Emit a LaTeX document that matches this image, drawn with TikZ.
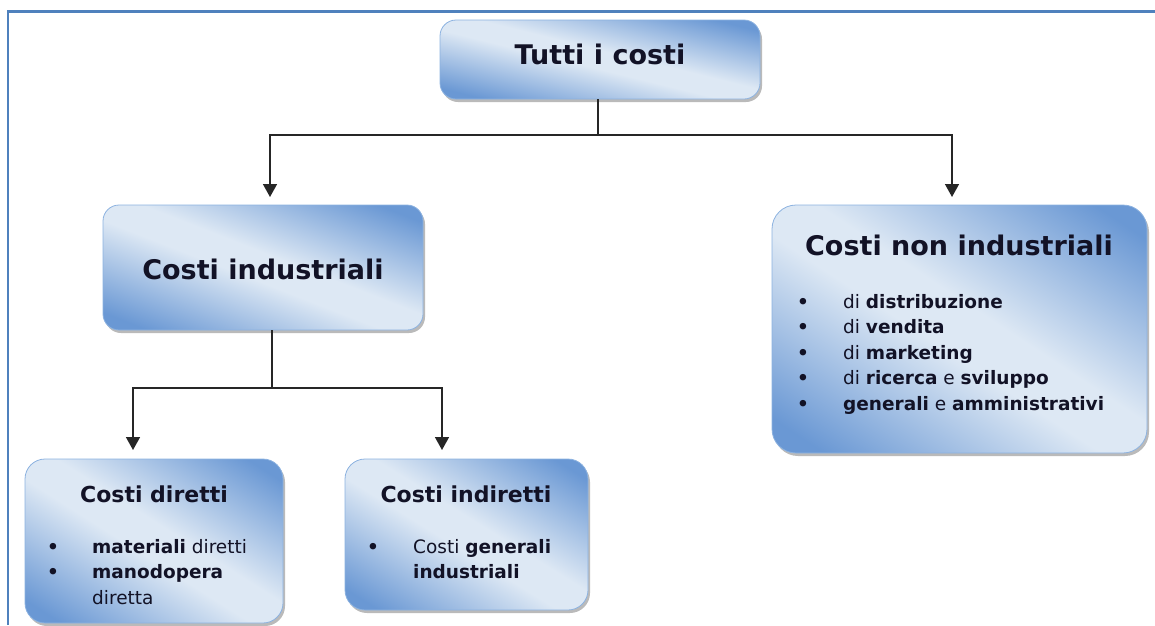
\documentclass[tikz,border=0pt]{standalone}
\usepackage{fontspec}
\setmainfont{DejaVu Sans}
\usetikzlibrary{arrows.meta,shadows}

\definecolor{frameblue}{RGB}{79,129,189}
\definecolor{boxedge}{RGB}{140,178,224}
\definecolor{txtcol}{RGB}{18,18,38}

% light band along the box diagonal, darker blue towards bottom left and top right
\pgfdeclarefunctionalshading{boxfill}{\pgfpoint{-50bp}{-50bp}}{\pgfpoint{50bp}{50bp}}{}{
  add 50 div abs 0.12 sub 1.35 mul
  dup 0 lt {pop 0} if dup 1 gt {pop 1} if
  dup -0.451 mul 0.867 add exch
  dup -0.314 mul 0.910 add exch
  -0.126 mul 0.957 add
}

\newcommand{\itm}{\textbf{\textbullet}}

\begin{document}
\begin{tikzpicture}[x=1pt, y=-1pt,
  costbox/.style={rectangle, rounded corners=16pt, draw=boxedge, line width=0.8pt, shade, shading=boxfill,
    drop shadow={shadow xshift=2pt, shadow yshift=-3pt, fill=black!45, opacity=0.6}},
  headtxt/.style={anchor=base, inner sep=0pt, text=txtcol, font=\bfseries\fontsize{27}{32}\selectfont},
  subtxt/.style={headtxt, font=\bfseries\fontsize{22}{27}\selectfont},
  listtxt/.style={anchor=base west, inner sep=0pt, text=txtcol, font=\fontsize{18.5}{25.5}\selectfont},
  link/.style={line width=1.5pt, draw=black!85},
  arr/.style={link, -{Triangle[width=14pt,length=13pt]}}]

\useasboundingbox (0,0) rectangle (1155,625);

% frame
\draw[frameblue, line width=2.5pt] (8,625) -- (8,11.5) -- (1155,11.5);

% boxes
\node[costbox, minimum width=320, minimum height=79] (tutti) at (600,59.5) {};
\node[costbox, minimum width=320, minimum height=125] (indus) at (263,267.5) {};
\node[costbox, minimum width=375, minimum height=248, rounded corners=24pt] (nonind) at (959.5,329) {};
\node[costbox, minimum width=258, minimum height=164, rounded corners=20pt] (diretti) at (154,541) {};
\node[costbox, minimum width=243, minimum height=151, rounded corners=20pt] (indiretti) at (466.5,534.5) {};

\node[headtxt] (tuttitxt) at (600,64) {Tutti i costi};
\node[headtxt] (industxt) at (263,279) {Costi industriali};
\node[headtxt] (nonindtxt) at (959,255) {Costi non industriali};
\node[subtxt] (direttitxt) at (154,502) {Costi diretti};
\node[subtxt] (indirettitxt) at (466,502) {Costi indiretti};

\node[listtxt] (direttilist) at (47,553) {\begin{tabular}[t]{@{}p{45pt}@{}l@{}}
  \itm & \textbf{materiali} diretti\\
  \itm & \textbf{manodopera}\\
   & diretta
\end{tabular}};
\node[listtxt] (indirettilist) at (367,553) {\begin{tabular}[t]{@{}p{46pt}@{}l@{}}
  \itm & Costi \textbf{generali}\\
   & \textbf{industriali}
\end{tabular}};
\node[listtxt] (nonindlist) at (797,308) {\begin{tabular}[t]{@{}p{46pt}@{}l@{}}
  \itm & di \textbf{distribuzione}\\
  \itm & di \textbf{vendita}\\
  \itm & di \textbf{marketing}\\
  \itm & di \textbf{ricerca} e \textbf{sviluppo}\\
  \itm & \textbf{generali} e \textbf{amministrativi}
\end{tabular}};

% connectors
\coordinate (topsplit) at (598,135);
\coordinate (indusin) at (270,197);
\coordinate (nonindin) at (952,197);
\coordinate (subsplit) at (272,388);
\coordinate (direttiin) at (133,450);
\coordinate (indirettiin) at (442,450);

\draw[link] (tutti.south -| topsplit) -- (topsplit);
\draw[arr] (topsplit) -| (indusin);
\draw[arr] (topsplit) -| (nonindin);
\draw[link] (indus.south -| subsplit) -- (subsplit);
\draw[arr] (subsplit) -| (direttiin);
\draw[arr] (subsplit) -| (indirettiin);

\end{tikzpicture}
\end{document}
